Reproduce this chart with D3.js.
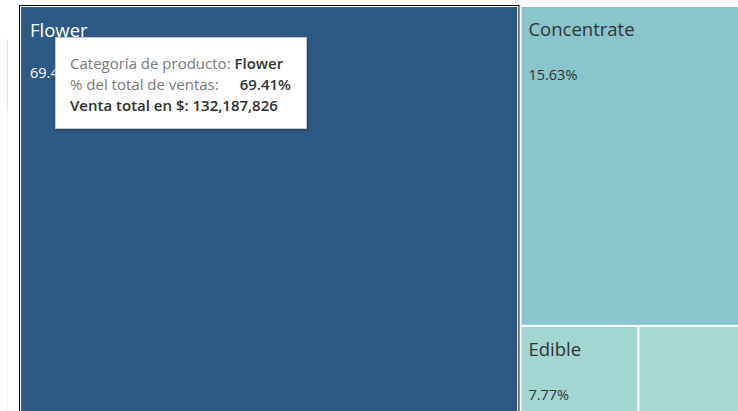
<!DOCTYPE html>
<html><head><meta charset="utf-8">
<script src="https://cdn.jsdelivr.net/npm/d3@7"></script>
<style>html,body{margin:0;padding:0;background:#fff;overflow:hidden}</style>
</head><body>
<svg id="chart" width="738" height="411"></svg>
<script>
// ---- data ----
const categories = ["Flower", "Concentrate", "Edible", "Liquid Edible", "Topical"];
const shares = [69.41, 15.63, 7.77, 6.63, 0.56];          // % del total de ventas
const colors = ["#2d5985", "#89c5cd", "#a2d6d2", "#a8d9d4", "#b3ded6"];
const selected = "Flower";
const tooltipLabels = ["Categoría de producto:", "% del total de ventas:", "Venta total en $:"];
const tooltipValues = ["Flower", "69.41%", "132,187,826"];

// ---- hierarchy (Flower | [Concentrate / [Edible | Liquid Edible] / Topical]) ----
const leaf = i => ({ name: categories[i], value: shares[i], color: colors[i] });
const tree = { name: "root", children: [
  leaf(0),
  { name: "right", children: [
    leaf(1),
    { name: "bottom", children: [leaf(2), leaf(3)] },
    leaf(4)
  ]}
]};

const svg = d3.select("#chart");
const W = 738, padLeft = 21, padTop = 7, H = 624;

// faint page separator on the left
svg.append("line").attr("x1", 7.5).attr("x2", 7.5).attr("y1", 39).attr("y2", 110)
  .attr("stroke", "#e2e2e2");
svg.append("line").attr("x1", 7.5).attr("x2", 7.5).attr("y1", 110).attr("y2", 411)
  .attr("stroke", "#f6f6f6");

const root = d3.hierarchy(tree).sum(d => d.children ? 0 : d.value);
const tile = (node, x0, y0, x1, y1) =>
  (node.depth % 2 === 0 ? d3.treemapDice : d3.treemapSlice)(node, x0, y0, x1, y1);
d3.treemap().tile(tile).size([W - padLeft, H])
  .paddingInner(d => d.depth === 0 ? 4 : 2).round(false)(root);

const g = svg.append("g").attr("transform", `translate(${padLeft},${padTop})`);
const leaves = root.leaves();

g.selectAll("rect.cell").data(leaves).join("rect").attr("class", "cell")
  .attr("x", d => d.x0).attr("y", d => d.y0)
  .attr("width", d => d.x1 - d.x0).attr("height", d => d.y1 - d.y0)
  .attr("fill", d => d.data.color);

// selection highlight
const sel = leaves.find(d => d.data.name === selected);
g.append("rect").attr("x", sel.x0 - 0.5).attr("y", sel.y0 - 0.5)
  .attr("width", sel.x1 - sel.x0 + 1).attr("height", sel.y1 - sel.y0 + 1)
  .attr("fill", "none").attr("stroke", "#fff").attr("stroke-width", 1);
g.append("rect").attr("x", sel.x0 - 1.5).attr("y", sel.y0 - 1.5)
  .attr("width", sel.x1 - sel.x0 + 3).attr("height", sel.y1 - sel.y0 + 3)
  .attr("fill", "none").attr("stroke", "#000").attr("stroke-width", 1);

const font = "'Open Sans', sans-serif";
leaves.forEach(d => {
  const isSel = d.data.name === selected;
  const pad = isSel ? 9 : 7;
  const col = isSel ? "#ffffff" : "#333333";
  const w = d.x1 - d.x0, h = d.y1 - d.y0;
  if (h < 80) return;
  const name = g.append("text").attr("x", d.x0 + pad).attr("y", d.y0 + (isSel ? 30 : 29))
    .attr("font-family", font).attr("font-size", 18.5).attr("fill", col).text(d.data.name);
  if (name.node().getComputedTextLength() + pad * 2 > w) { name.remove(); return; }
  g.append("text").attr("x", d.x0 + pad).attr("y", d.y0 + (isSel ? 71 : 73))
    .attr("font-family", font).attr("font-size", 14.5).attr("fill", col)
    .text(d3.format(".2f")(d.data.value) + "%");
});

// tooltip
const defs = svg.append("defs");
const f = defs.append("filter").attr("id", "sh").attr("x", "-10%").attr("y", "-10%")
  .attr("width", "130%").attr("height", "140%");
f.append("feDropShadow").attr("dx", 1).attr("dy", 1.5).attr("stdDeviation", 1.5)
  .attr("flood-color", "#000").attr("flood-opacity", 0.25);
const tt = svg.append("g");
tt.append("rect").attr("x", 55.5).attr("y", 37.5).attr("width", 251).attr("height", 91)
  .attr("fill", "#fff").attr("stroke", "#c8c8c8").attr("filter", "url(#sh)");
const fs = 15;
const t1 = tt.append("text").attr("x", 70).attr("y", 68.5).attr("font-family", font).attr("font-size", fs);
t1.append("tspan").attr("fill", "#7a7a7a").text(tooltipLabels[0] + " ");
t1.append("tspan").attr("fill", "#333").attr("font-weight", 600).text(tooltipValues[0]);
tt.append("text").attr("x", 70).attr("y", 89.5).attr("font-family", font).attr("font-size", fs)
  .attr("fill", "#7a7a7a").text(tooltipLabels[1]);
tt.append("text").attr("x", 291).attr("y", 89.5).attr("text-anchor", "end").attr("font-family", font)
  .attr("font-size", fs).attr("font-weight", 600).attr("fill", "#333").text(tooltipValues[1]);
const t3 = tt.append("text").attr("x", 70).attr("y", 110.5).attr("font-family", font).attr("font-size", fs)
  .attr("fill", "#2e2e2e").attr("font-weight", 600);
t3.append("tspan").text(tooltipLabels[2] + " ");
t3.append("tspan").text(tooltipValues[2]);
</script>
</body></html>
